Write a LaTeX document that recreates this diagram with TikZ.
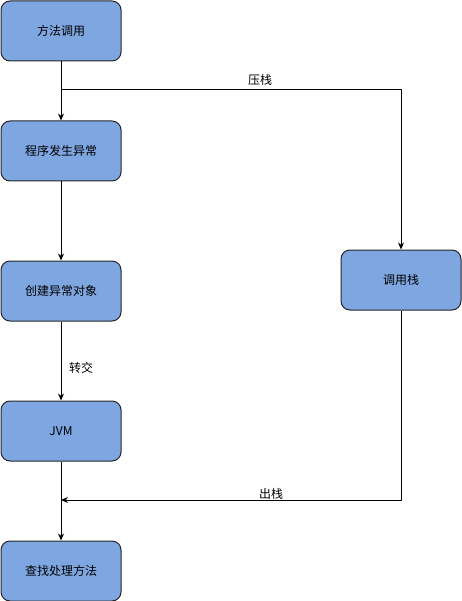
\documentclass[tikz,border=0pt]{standalone}
\usepackage{fontspec}
\setmainfont{Noto Sans CJK SC}
\usetikzlibrary{arrows.meta}
\definecolor{boxblue}{HTML}{7EA6E0}
\tikzset{
  stepbox/.style={draw=black!85, fill=boxblue, rounded corners=9pt, minimum width=120pt, minimum height=60pt, inner sep=0pt},
}
\begin{document}
\begin{tikzpicture}[x=1pt, y=-1pt, line width=1pt, font=\fontsize{12}{14}\selectfont, line join=round, >={Stealth[length=7pt,width=6pt]}]
\useasboundingbox (0,0) rectangle (461,601);
% left column
\node[stepbox] (call) at (61,31) {方法调用};
\node[stepbox] (err) at (61,151) {程序发生异常};
\node[stepbox] (obj) at (61,291) {创建异常对象};
\node[stepbox] (jvm) at (61,431) {JVM};
\node[stepbox] (find) at (61,571) {查找处理方法};
% right
\node[stepbox] (stack) at (401,280) {调用栈};
\coordinate (push) at (61,90);
\coordinate (pop) at (61,500);
\draw[->] (call) -- (err);
\draw[->] (push) -| (stack);
\node at (260,80) {压栈};
\draw[->] (err) -- (obj);
\draw[->] (obj) -- (jvm);
\node at (81,368) {转交};
\draw[->] (jvm) -- (find);
\draw[->] (stack) |- (pop);
\node at (271,494) {出栈};
\end{tikzpicture}
\end{document}
